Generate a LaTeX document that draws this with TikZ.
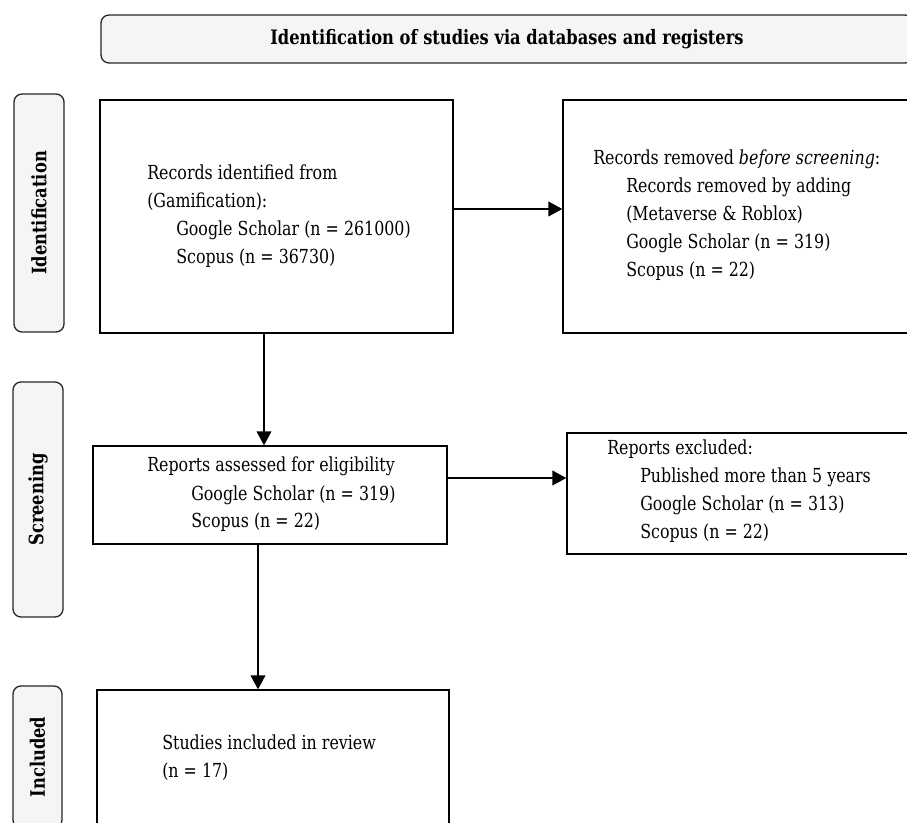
\documentclass[tikz,border=0pt]{standalone}
\usepackage{fontspec}
\setmainfont{DejaVu Serif}[FakeStretch=0.82]
\usetikzlibrary{arrows.meta}

\begin{document}
\begin{tikzpicture}[x=0.75pt, y=-0.75pt,
  box/.style={draw, line width=1pt, inner sep=0pt},
  stage/.style={draw=black!85, line width=1pt, fill=gray!8, rounded corners=6pt, inner sep=0pt, font=\fontsize{14.9}{17}\selectfont\bfseries},
  txt/.style={anchor=base west, inner sep=0pt, font=\fontsize{14.5}{21}\selectfont},
  arr/.style={-{Triangle[length=10.5pt, width=11pt]}, line width=1.4pt}]

\clip (0,0) rectangle (907,823);

% Header
\node[stage, minimum width=609pt, minimum height=36pt] (head) at (507,39) {Identification of studies via databases and registers};

% Stage labels
\node[stage, rotate=90, minimum width=178.5pt, minimum height=37.5pt] (stid) at (39,213) {Identification};
\node[stage, rotate=90, minimum width=176.25pt, minimum height=37.5pt] (stscr) at (38,499.5) {Screening};
\node[stage, rotate=90, minimum width=106.5pt, minimum height=36.75pt] (stinc) at (37.5,757) {Included};

% Boxes
\node[box, minimum width=264.75pt, minimum height=174.75pt] (box1) at (276.5,216.5) {};
\node[box, minimum width=264pt, minimum height=174.75pt] (box2) at (739,216.5) {};
\node[box, minimum width=265.5pt, minimum height=73.5pt] (box3) at (270,495) {};
\node[box, minimum width=261pt, minimum height=90.75pt] (box4) at (741,493.5) {};
\node[box, minimum width=264pt, minimum height=108.75pt] (box5) at (273,762.5) {};

% Texts
\node[txt] (t1) at (147,180) {\begin{tabular}[t]{@{}l@{}}Records identified from\\(Gamification):\\\hspace*{21.75pt}Google Scholar (n = 261000)\\\hspace*{21.75pt}Scopus (n = 36730)\end{tabular}};
\node[txt] (t2) at (593,165) {\begin{tabular}[t]{@{}l@{}}Records removed \textit{before screening}:\\\hspace*{24.75pt}Records removed by adding\\\hspace*{24.75pt}(Metaverse \& Roblox)\\\hspace*{24.75pt}Google Scholar (n = 319)\\\hspace*{24.75pt}Scopus (n = 22)\end{tabular}};
\node[txt] (t3) at (147,472) {\begin{tabular}[t]{@{}l@{}}Reports assessed for eligibility\\\hspace*{33pt}Google Scholar (n = 319)\\\hspace*{33pt}Scopus (n = 22)\end{tabular}};
\node[txt] (t4) at (607,455) {\begin{tabular}[t]{@{}l@{}}Reports excluded:\\\hspace*{24.75pt}Published more than 5 years\\\hspace*{24.75pt}Google Scholar (n = 313)\\\hspace*{24.75pt}Scopus (n = 22)\end{tabular}};
\node[txt] (t5) at (162,749) {\begin{tabular}[t]{@{}l@{}}Studies included in review\\(n = 17)\end{tabular}};

% Connectors
\coordinate (x1) at (264,0);
\coordinate (x2) at (258,0);
\coordinate (y1) at (0,209);
\coordinate (y2) at (0,478);
\draw[arr] (x1 |- box1.south) -- (x1 |- box3.north);
\draw[arr] (x2 |- box3.south) -- (x2 |- box5.north);
\draw[arr] (box1.east |- y1) -- (box2.west |- y1);
\draw[arr] (box3.east |- y2) -- (box4.west |- y2);

\end{tikzpicture}
\end{document}
